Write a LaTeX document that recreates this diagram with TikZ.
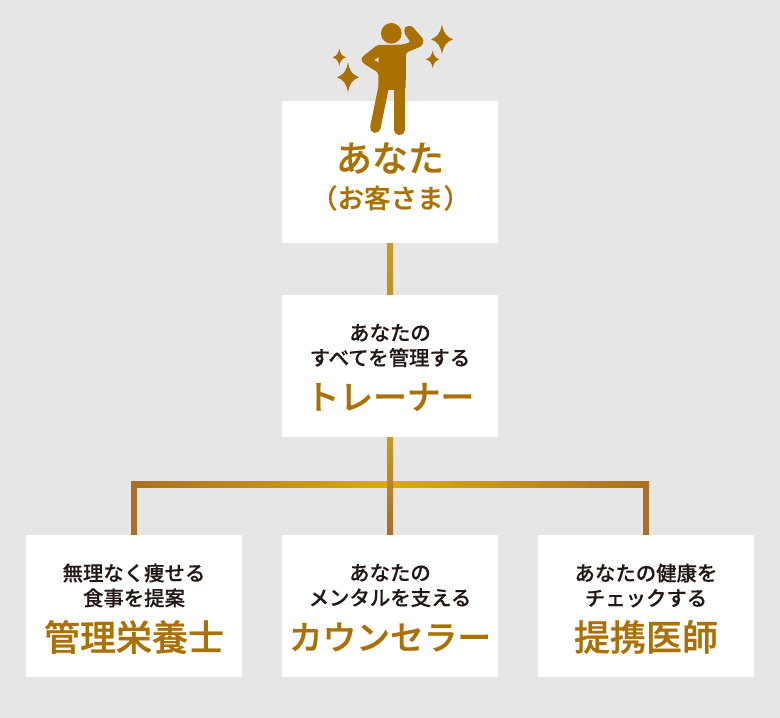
\documentclass[tikz,border=0pt]{standalone}
\usepackage{fontspec}
\setmainfont{Noto Sans CJK JP Medium}[FakeBold=0.25]
\newfontfamily\titlefont{Noto Sans CJK JP Medium}[FakeBold=0.7]
\usetikzlibrary{calc}
\definecolor{bgcol}{HTML}{E6E6E6}
\definecolor{goldtxt}{HTML}{AB7100}
\definecolor{goldlight}{HTML}{DCAA10}
\definecolor{goldmid}{HTML}{C99A1C}
\definecolor{golddark}{HTML}{A96F23}
\definecolor{inktxt}{HTML}{231815}
\tikzset{
  card/.style={fill=white, minimum width=216pt, minimum height=142pt, inner sep=0pt},
  lead/.style={color=inktxt, font=\fontsize{20.4}{25}\selectfont, align=center, inner sep=0pt},
  title/.style={color=goldtxt, font=\titlefont\fontsize{36}{40}\selectfont, inner sep=0pt},
  kanatitle/.style={title, font=\titlefont\fontsize{33.7}{40}\selectfont},
  link/.style={line width=6pt, color=golddark},
  pics/spark/.style n args={2}{code={\fill[goldtxt, x=#1pt, y=#2pt] (0,-1) .. controls (0.14,-0.42) and (0.4,-0.16) .. (1,0) .. controls (0.4,0.16) and (0.14,0.42) .. (0,1) .. controls (-0.14,0.42) and (-0.4,0.16) .. (-1,0) .. controls (-0.4,-0.16) and (-0.14,-0.42) .. (0,-1) -- cycle;}}
}
\begin{document}
\begin{tikzpicture}[x=1pt, y=-1pt, line cap=butt]
    \fill[bgcol] (0,0) rectangle (780,718);
    \useasboundingbox (0,0) rectangle (780,718);

    \node[card] (you) at (390,172) {};
    \node[card] (trainer) at (390,366) {};
    \node[card] (dietitian) at (134,606) {};
    \node[card] (counselor) at (390,606) {};
    \node[card] (doctor) at (646,606) {};
    \coordinate (barleft) at (134,484);
    \coordinate (barright) at (646,484);

    % connectors
    \draw[link] (you.south) -- (trainer.north);
    \draw[link] (trainer.south) -- (counselor.north);
    \draw[link] (dietitian.north) -- (barleft) -- (barright) -- (doctor.north);
    \shade[left color=golddark, right color=goldlight] ($(barleft)+(-3,-3)$) rectangle ($(trainer.south|-barleft)+(0,3)$);
    \shade[left color=goldlight, right color=golddark] ($(trainer.south|-barleft)+(0,-3)$) rectangle ($(barright)+(3,3)$);
    \shade[top color=goldmid, bottom color=golddark] ($(trainer.south)+(-3,0)$) rectangle ($(counselor.north)+(3,0)$);
    \shade[top color=goldmid, bottom color=goldmid!80!golddark] ($(you.south)+(-3,0)$) rectangle ($(trainer.north)+(3,0)$);

    % person, in units of the crop
    \begin{scope}[shift={(320,10)}, x=0.3333pt, y=-0.3333pt]
      \fill[goldtxt] (214,70) circle (31);
      \fill[goldtxt, rounded corners=2.5pt] (172,105) -- (245,104) -- (272,97) -- (252,68) -- (255,50) -- (275,47) -- (312,90) -- (306,108) -- (258,128) -- (257,240) -- (175,240) -- (175,188) -- (130,160) -- (122,148) -- (130,138) -- cycle;
      \draw[goldtxt, line width=10.5pt, line cap=round] (190,235) -- (166,353);
      \draw[goldtxt, line width=10.5pt, line cap=round] (239,235) -- (239,360);
      \fill[bgcol] (163,150) -- (176,142) -- (176,157) -- cycle;
    \end{scope}
    \pic at (442,39.3) {spark={11}{15}};
    \pic at (432.7,59.3) {spark={6.7}{8.7}};
    \pic at (339.3,57.3) {spark={6.7}{8.7}};
    \pic at (348,77.3) {spark={11}{15}};

    \node[title] (younametxt) at (390,158) {あなた};
    \node[color=goldtxt, font=\titlefont\fontsize{26.5}{30}\selectfont, inner sep=0pt] (youhonortxt) at (390.5,198) {（お客さま）};

    \node[lead] (trainerlead) at (390,345.5) {あなたの\\すべてを管理する};
    \node[kanatitle] (trainertxt) at (390,397) {トレーナー};
    \node[lead] (dietitianlead) at (134,585.5) {無理なく痩せる\\食事を提案};
    \node[title] (dietitiantxt) at (134,637) {管理栄養士};
    \node[lead] (counselorlead) at (390,585.5) {あなたの\\メンタルを支える};
    \node[kanatitle] (counselortxt) at (390,637) {カウンセラー};
    \node[lead] (doctorlead) at (646,585.5) {あなたの健康を\\チェックする};
    \node[title] (doctortxt) at (646,637) {提携医師};
\end{tikzpicture}
\end{document}
